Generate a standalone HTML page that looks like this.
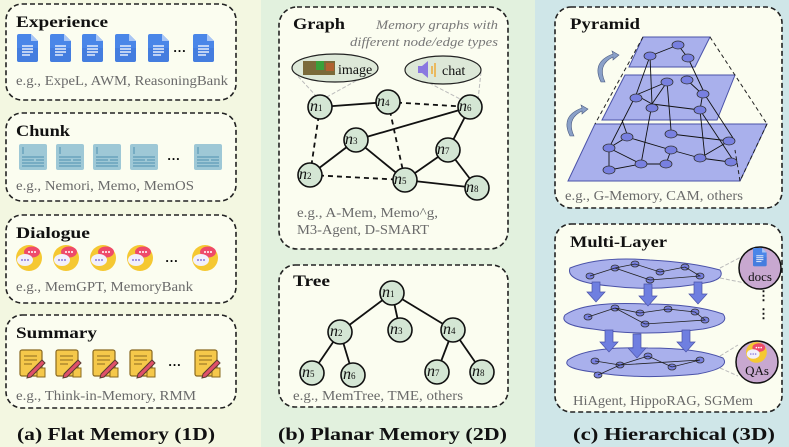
<!DOCTYPE html>
<html><head><meta charset="utf-8"><style>
html,body{margin:0;padding:0;width:789px;height:447px;overflow:hidden;background:#fff}
svg{display:block}
text{font-family:"Liberation Serif",serif}
.t{font-weight:bold;font-size:16px;fill:#111}
.s{font-size:13.5px;fill:#6a6a6a}
.cap{font-weight:bold;font-size:18px;fill:#111}
.bx{fill:#fbfdf0;stroke:#222;stroke-width:1.6;stroke-dasharray:5,3}
.gn{fill:#d4e6d4;stroke:#111;stroke-width:1.6}
.nl{font-style:italic;font-size:16px;fill:#111}
.nl2{font-size:9px;fill:#111}
.pl{fill:#a9b0ec;stroke:#4a52a8;stroke-width:1}
.pn{fill:#7880e0;stroke:#333;stroke-width:0.8}
</style></head><body>
<svg width="789" height="447" viewBox="0 0 789 447" xmlns="http://www.w3.org/2000/svg">
<defs>
<g id="doc"><path d="M0,2 q0,-2 2,-2 h12 l7,7 v19 q0,2 -2,2 h-17 q-2,0 -2,-2z" fill="#4a86e8"/><path d="M14,0 l7,7 h-7z" fill="#a9c6f5"/><path d="M0,14 h21 v12 q0,2 -2,2 h-17 q-2,0 -2,-2z" fill="#3d74d6" opacity="0.5"/><g stroke="#fff" stroke-width="1.3"><line x1="5" y1="12" x2="16" y2="12"/><line x1="5" y1="15" x2="16" y2="15"/><line x1="5" y1="18" x2="16" y2="18"/><line x1="5" y1="21" x2="13" y2="21"/></g></g>
<g id="chunk"><rect x="0" y="0" width="28" height="26" rx="2" fill="#9ec8d6"/><g stroke="#4f8fb0" stroke-width="1"><line x1="4" y1="3" x2="4" y2="10"/><line x1="3" y1="13" x2="25" y2="13"/><line x1="3" y1="16" x2="15" y2="16"/><line x1="17" y1="16" x2="25" y2="16"/><line x1="3" y1="19" x2="25" y2="19"/><line x1="3" y1="22" x2="25" y2="22"/></g></g>
<g id="dlg"><circle cx="13" cy="13" r="13" fill="#f5c832"/><ellipse cx="16" cy="7" rx="8" ry="5.5" fill="#ee4a6a"/><g fill="#fff"><circle cx="13" cy="7" r="1"/><circle cx="16" cy="7" r="1"/><circle cx="19" cy="7" r="1"/></g><ellipse cx="9" cy="15" rx="8" ry="6" fill="#f2f0fb"/><g fill="#8a78d8"><circle cx="6" cy="15" r="1"/><circle cx="9" cy="15" r="1"/><circle cx="12" cy="15" r="1"/></g></g>
<g id="sum"><rect x="0" y="0" width="22" height="26" rx="2" fill="#f5c84a" stroke="#8a6a20" stroke-width="1.2"/><g stroke="#8a6a20" stroke-width="1"><line x1="4" y1="6" x2="17" y2="6"/><line x1="4" y1="10" x2="17" y2="10"/><line x1="4" y1="14" x2="12" y2="14"/></g><rect x="17" y="18" width="8" height="9" fill="#f5c84a" stroke="#8a6a20"/><path d="M8,24 l14,-14 l3,3 l-14,14 l-4,1z" fill="#e0506a" stroke="#5a3a30" stroke-width="1"/></g>
</defs>
<rect x="0" y="0" width="261" height="447" fill="#f3f7e1"/>
<rect x="261" y="0" width="274" height="447" fill="#e2f1de"/>
<rect x="535" y="0" width="254" height="447" fill="#cfe6e8"/>

<!-- LEFT -->
<rect class="bx" x="6" y="4" width="230" height="96" rx="16"/>
<text class="t" x="16" y="27" textLength="92" lengthAdjust="spacingAndGlyphs">Experience</text>
<use href="#doc" x="17" y="34"/><use href="#doc" x="50" y="34"/><use href="#doc" x="82" y="34"/><use href="#doc" x="115" y="34"/><use href="#doc" x="148" y="34"/><use href="#doc" x="193" y="34"/>
<text x="173" y="52" font-size="13" font-weight="bold">…</text>
<text class="s" x="16" y="85" textLength="212" lengthAdjust="spacingAndGlyphs">e.g., ExpeL, AWM, ReasoningBank</text>

<rect class="bx" x="6" y="113" width="230" height="88" rx="16"/>
<text class="t" x="16" y="136" textLength="54" lengthAdjust="spacingAndGlyphs">Chunk</text>
<use href="#chunk" x="19" y="144"/><use href="#chunk" x="56" y="144"/><use href="#chunk" x="93" y="144"/><use href="#chunk" x="130" y="144"/><use href="#chunk" x="194" y="144"/>
<text x="167" y="160" font-size="13" font-weight="bold">…</text>
<text class="s" x="16" y="190" textLength="178" lengthAdjust="spacingAndGlyphs">e.g., Nemori, Memo, MemOS</text>

<rect class="bx" x="6" y="215" width="230" height="88" rx="16"/>
<text class="t" x="16" y="238" textLength="74" lengthAdjust="spacingAndGlyphs">Dialogue</text>
<use href="#dlg" x="16" y="245"/><use href="#dlg" x="53" y="245"/><use href="#dlg" x="90" y="245"/><use href="#dlg" x="127" y="245"/><use href="#dlg" x="192" y="245"/>
<text x="165" y="262" font-size="13" font-weight="bold">…</text>
<text class="s" x="16" y="291" textLength="177" lengthAdjust="spacingAndGlyphs">e.g., MemGPT, MemoryBank</text>

<rect class="bx" x="6" y="315" width="230" height="93" rx="16"/>
<text class="t" x="16" y="338" textLength="81" lengthAdjust="spacingAndGlyphs">Summary</text>
<use href="#sum" x="20" y="350"/><use href="#sum" x="56" y="350"/><use href="#sum" x="93" y="350"/><use href="#sum" x="130" y="350"/><use href="#sum" x="195" y="350"/>
<text x="168" y="366" font-size="13" font-weight="bold">…</text>
<text class="s" x="16" y="400" textLength="180" lengthAdjust="spacingAndGlyphs">e.g., Think-in-Memory, RMM</text>
<text class="cap" x="17" y="440" textLength="198" lengthAdjust="spacingAndGlyphs">(a) Flat Memory (1D)</text>

<!-- MIDDLE -->
<rect class="bx" x="279" y="7" width="229" height="242" rx="18" fill="#eef7ea"/>
<text class="t" x="293" y="29" textLength="52" lengthAdjust="spacingAndGlyphs">Graph</text>
<text x="376" y="29" font-size="13" font-style="italic" fill="#777" textLength="122" lengthAdjust="spacingAndGlyphs">Memory graphs with</text>
<text x="350" y="46" font-size="13" font-style="italic" fill="#777" textLength="148" lengthAdjust="spacingAndGlyphs">different node/edge types</text>
<g stroke="#bbb" stroke-width="1" stroke-dasharray="4,2"><line x1="294" y1="72" x2="318" y2="98"/><line x1="372" y1="72" x2="325" y2="98"/><line x1="408" y1="72" x2="462" y2="100"/><line x1="481" y1="72" x2="478" y2="100"/></g>
<ellipse cx="335" cy="68" rx="43" ry="14" fill="#dde8d8" stroke="#222" stroke-width="1.2"/>
<rect x="303" y="61" width="32" height="14" fill="#7a6a3a"/><rect x="316" y="61" width="8" height="9" fill="#3aa03a"/><rect x="326" y="63" width="8" height="8" fill="#b06030"/>
<text x="338" y="74" font-size="14" fill="#111">image</text>
<ellipse cx="443" cy="70" rx="38" ry="14" fill="#dde8d8" stroke="#222" stroke-width="1.2"/>
<path d="M418,66 h4 l6,-5 v17 l-6,-5 h-4z" fill="#8a78e0"/><g stroke="#f0a020" stroke-width="1.3"><line x1="432" y1="66" x2="432" y2="74"/><line x1="435" y1="63" x2="435" y2="77"/></g>
<text x="442" y="75" font-size="14" fill="#111">chat</text>
<g stroke="#111" stroke-width="1.8" fill="none">
<line x1="320" y1="107" x2="388" y2="102"/>
<line x1="356" y1="140" x2="470" y2="107"/>
<line x1="356" y1="140" x2="310" y2="175"/>
<line x1="356" y1="140" x2="405" y2="180"/>
<line x1="470" y1="107" x2="448" y2="150"/>
<line x1="448" y1="150" x2="405" y2="180"/>
<line x1="448" y1="150" x2="477" y2="188"/>
<line x1="405" y1="180" x2="477" y2="188"/>
<g stroke-dasharray="5,4"><line x1="388" y1="102" x2="470" y2="107"/><line x1="320" y1="107" x2="310" y2="175"/><line x1="388" y1="102" x2="405" y2="180"/><line x1="310" y1="175" x2="405" y2="180"/></g>
</g>
<circle class="gn" cx="320" cy="107" r="12"/><circle class="gn" cx="388" cy="102" r="12"/><circle class="gn" cx="470" cy="107" r="12"/><circle class="gn" cx="356" cy="140" r="12"/><circle class="gn" cx="448" cy="150" r="12"/><circle class="gn" cx="310" cy="175" r="12"/><circle class="gn" cx="405" cy="180" r="12"/><circle class="gn" cx="477" cy="188" r="12"/>
<text x="310" y="111" class="nl">n<tspan class="nl2" font-style="normal">1</tspan></text>
<text x="377" y="106" class="nl">n<tspan class="nl2" font-style="normal">4</tspan></text>
<text x="459" y="111" class="nl">n<tspan class="nl2" font-style="normal">6</tspan></text>
<text x="345" y="144" class="nl">n<tspan class="nl2" font-style="normal">3</tspan></text>
<text x="437" y="154" class="nl">n<tspan class="nl2" font-style="normal">7</tspan></text>
<text x="299" y="179" class="nl">n<tspan class="nl2" font-style="normal">2</tspan></text>
<text x="394" y="184" class="nl">n<tspan class="nl2" font-style="normal">5</tspan></text>
<text x="466" y="192" class="nl">n<tspan class="nl2" font-style="normal">8</tspan></text>
<text class="s" x="297" y="217" textLength="141" lengthAdjust="spacingAndGlyphs">e.g., A-Mem, Memo^g,</text>
<text class="s" x="297" y="234" textLength="132" lengthAdjust="spacingAndGlyphs">M3-Agent, D-SMART</text>

<rect class="bx" x="279" y="265" width="229" height="142" rx="16" fill="#eef7ea"/>
<text class="t" x="293" y="286" textLength="37" lengthAdjust="spacingAndGlyphs">Tree</text>
<g stroke="#111" stroke-width="1.8"><line x1="392" y1="293" x2="340" y2="332"/><line x1="392" y1="293" x2="400" y2="330"/><line x1="392" y1="293" x2="453" y2="330"/><line x1="340" y1="332" x2="312" y2="373"/><line x1="340" y1="332" x2="353" y2="375"/><line x1="453" y1="330" x2="437" y2="372"/><line x1="453" y1="330" x2="482" y2="372"/></g>
<circle class="gn" cx="392" cy="293" r="12"/><circle class="gn" cx="340" cy="332" r="12"/><circle class="gn" cx="400" cy="330" r="12"/><circle class="gn" cx="453" cy="330" r="12"/><circle class="gn" cx="312" cy="373" r="12"/><circle class="gn" cx="353" cy="375" r="12"/><circle class="gn" cx="437" cy="372" r="12"/><circle class="gn" cx="482" cy="372" r="12"/>
<text x="382" y="297" class="nl">n<tspan class="nl2" font-style="normal">1</tspan></text>
<text x="330" y="336" class="nl">n<tspan class="nl2" font-style="normal">2</tspan></text>
<text x="390" y="334" class="nl">n<tspan class="nl2" font-style="normal">3</tspan></text>
<text x="443" y="334" class="nl">n<tspan class="nl2" font-style="normal">4</tspan></text>
<text x="302" y="377" class="nl">n<tspan class="nl2" font-style="normal">5</tspan></text>
<text x="343" y="379" class="nl">n<tspan class="nl2" font-style="normal">6</tspan></text>
<text x="427" y="376" class="nl">n<tspan class="nl2" font-style="normal">7</tspan></text>
<text x="472" y="376" class="nl">n<tspan class="nl2" font-style="normal">8</tspan></text>
<text class="s" x="293" y="400" textLength="170" lengthAdjust="spacingAndGlyphs">e.g., MemTree, TME, others</text>
<text class="cap" x="278" y="440" textLength="229" lengthAdjust="spacingAndGlyphs">(b) Planar Memory (2D)</text>

<!-- RIGHT -->
<rect class="bx" x="555" y="7" width="227" height="201" rx="16" fill="#dff0f0"/>
<text class="t" x="570" y="29" textLength="70" lengthAdjust="spacingAndGlyphs">Pyramid</text>
<polygon class="pl" points="595,124 767,124 740,181 568,181"/>
<polygon class="pl" points="625,75 735,75 717,120 602,120"/>
<polygon class="pl" points="643,37 710,37 695,67 629,67"/>
<g stroke="#222" stroke-width="1" stroke-dasharray="4,3" fill="none"><line x1="643" y1="37" x2="595" y2="124"/><line x1="710" y1="37" x2="767" y2="124"/><line x1="767" y1="124" x2="740" y2="181"/><line x1="740" y1="181" x2="735" y2="150"/></g>
<g stroke="#111" stroke-width="0.9" fill="none">
<line x1="678" y1="45" x2="650" y2="56"/><line x1="678" y1="45" x2="688" y2="58"/>
<line x1="650" y1="56" x2="636" y2="95"/><line x1="650" y1="56" x2="652" y2="104"/><line x1="688" y1="58" x2="703" y2="90"/>
<line x1="667" y1="82" x2="636" y2="95"/><line x1="667" y1="82" x2="652" y2="104"/><line x1="687" y1="80" x2="700" y2="92"/><line x1="636" y1="95" x2="652" y2="104"/><line x1="652" y1="104" x2="700" y2="110"/><line x1="703" y1="92" x2="700" y2="110"/>
<line x1="636" y1="95" x2="609" y2="148"/><line x1="652" y1="104" x2="641" y2="164"/><line x1="667" y1="82" x2="671" y2="130"/><line x1="700" y1="110" x2="705" y2="158"/><line x1="703" y1="92" x2="733" y2="138"/><line x1="700" y1="110" x2="733" y2="160"/><line x1="628" y1="137" x2="622" y2="120"/>
<line x1="627" y1="137" x2="609" y2="148"/><line x1="627" y1="137" x2="671" y2="150"/><line x1="671" y1="134" x2="729" y2="141"/><line x1="609" y1="148" x2="609" y2="170"/><line x1="609" y1="170" x2="641" y2="164"/><line x1="641" y1="164" x2="666" y2="164"/><line x1="671" y1="150" x2="700" y2="158"/><line x1="700" y1="158" x2="730" y2="162"/><line x1="609" y1="148" x2="641" y2="164"/><line x1="671" y1="150" x2="666" y2="164"/><line x1="729" y1="141" x2="700" y2="158"/>
</g>
<g class="pn">
<ellipse cx="678" cy="45" rx="6" ry="4"/><ellipse cx="650" cy="56" rx="6" ry="4"/><ellipse cx="688" cy="58" rx="6" ry="4"/>
<ellipse cx="667" cy="82" rx="6" ry="4"/><ellipse cx="687" cy="80" rx="6" ry="4"/><ellipse cx="636" cy="98" rx="6" ry="4"/><ellipse cx="652" cy="108" rx="6" ry="4"/><ellipse cx="703" cy="94" rx="6" ry="4"/><ellipse cx="700" cy="110" rx="6" ry="4"/>
<ellipse cx="627" cy="137" rx="6" ry="4"/><ellipse cx="671" cy="134" rx="6" ry="4"/><ellipse cx="729" cy="141" rx="6" ry="4"/><ellipse cx="609" cy="148" rx="6" ry="4"/><ellipse cx="671" cy="150" rx="6" ry="4"/><ellipse cx="641" cy="164" rx="6" ry="4"/><ellipse cx="609" cy="170" rx="6" ry="4"/><ellipse cx="666" cy="164" rx="6" ry="4"/><ellipse cx="700" cy="158" rx="6" ry="4"/><ellipse cx="731" cy="162" rx="6" ry="4"/>
</g>
<g fill="#8aa0c8" stroke="#4a5a80" stroke-width="0.6"><path d="M601,82 q-10,-20 12,-28 l-1,-3 l7,4 l-6,5 l0,-3 q-16,8 -8,25z"/><path d="M570,136 q-10,-20 12,-28 l-1,-3 l7,4 l-6,5 l0,-3 q-16,8 -8,25z"/></g>
<text class="s" x="565" y="200" textLength="178" lengthAdjust="spacingAndGlyphs">e.g., G-Memory, CAM, others</text>

<rect class="bx" x="555" y="224" width="227" height="188" rx="16" fill="#dff0f0"/>
<text class="t" x="570" y="247" textLength="97" lengthAdjust="spacingAndGlyphs">Multi-Layer</text>
<g stroke="#bbb" stroke-width="1" stroke-dasharray="4,2"><line x1="720" y1="268" x2="745" y2="255"/><line x1="720" y1="278" x2="745" y2="283"/><line x1="720" y1="356" x2="738" y2="345"/><line x1="720" y1="368" x2="738" y2="376"/></g>
<path class="pl" d="M570,268 q30,-12 80,-8 q40,2 70,10 q5,8 -10,12 q-50,10 -100,4 q-45,-4 -40,-18z"/>
<path class="pl" d="M565,315 q20,-14 80,-11 q50,0 78,10 q8,10 -20,15 q-60,8 -110,0 q-35,-4 -28,-14z"/>
<path class="pl" d="M568,360 q20,-14 80,-12 q50,0 75,10 q8,10 -25,16 q-60,6 -105,-2 q-32,-4 -25,-12z"/>
<g class="pn"><ellipse cx="590" cy="276" rx="4" ry="3"/><ellipse cx="615" cy="268" rx="4" ry="3"/><ellipse cx="635" cy="264" rx="4" ry="3"/><ellipse cx="660" cy="272" rx="4" ry="3"/><ellipse cx="685" cy="267" rx="4" ry="3"/><ellipse cx="700" cy="276" rx="4" ry="3"/><ellipse cx="650" cy="280" rx="4" ry="3"/>
<ellipse cx="588" cy="317" rx="4" ry="3"/><ellipse cx="615" cy="308" rx="4" ry="3"/><ellipse cx="640" cy="313" rx="4" ry="3"/><ellipse cx="668" cy="309" rx="4" ry="3"/><ellipse cx="695" cy="312" rx="4" ry="3"/><ellipse cx="705" cy="320" rx="4" ry="3"/><ellipse cx="645" cy="324" rx="4" ry="3"/>
<ellipse cx="595" cy="361" rx="4" ry="3"/><ellipse cx="620" cy="365" rx="4" ry="3"/><ellipse cx="648" cy="356" rx="4" ry="3"/><ellipse cx="672" cy="367" rx="4" ry="3"/><ellipse cx="700" cy="360" rx="4" ry="3"/><ellipse cx="598" cy="375" rx="4" ry="3"/></g>
<g stroke="#222" stroke-width="0.8" fill="none"><polyline points="590,276 615,268 635,264 660,272 685,267 700,276 650,280 615,268"/><polyline points="588,317 615,308 640,313 668,309 695,312 705,320 645,324 615,308"/><polyline points="595,361 620,365 648,356 672,367 700,360 620,365 598,375"/></g>
<g fill="#6f7fe0" stroke="#4a52a8" stroke-width="0.7">
<path d="M592,282 h8 v10 h5 l-9,10 l-9,-10 h5z"/><path d="M644,284 h8 v12 h5 l-9,10 l-9,-10 h5z"/><path d="M694,282 h8 v12 h5 l-9,10 l-9,-10 h5z"/>
<path d="M605,330 h8 v12 h5 l-9,10 l-9,-10 h5z"/><path d="M633,334 h8 v14 h5 l-9,10 l-9,-10 h5z"/><path d="M682,330 h8 v12 h5 l-9,10 l-9,-10 h5z"/></g>
<circle cx="760" cy="268" r="21" fill="#c8a8d0" stroke="#111" stroke-width="1.5"/>
<use href="#doc" transform="translate(753,248) scale(0.65)"/>
<text x="760" y="281" text-anchor="middle" font-size="13" fill="#111">docs</text>
<text x="757" y="300" font-size="13" font-weight="bold" fill="#111">⋮</text>
<text x="757" y="318" font-size="13" font-weight="bold" fill="#111">⋮</text>
<circle cx="757" cy="362" r="21" fill="#c8a8d0" stroke="#111" stroke-width="1.5"/>
<use href="#dlg" transform="translate(746,342) scale(0.8)"/>
<text x="757" y="375" text-anchor="middle" font-size="13" fill="#111">QAs</text>
<text class="s" x="573" y="405" textLength="180" lengthAdjust="spacingAndGlyphs">HiAgent, HippoRAG, SGMem</text>
<text class="cap" x="573" y="440" textLength="202" lengthAdjust="spacingAndGlyphs">(c) Hierarchical  (3D)</text>
</svg>
</body></html>
